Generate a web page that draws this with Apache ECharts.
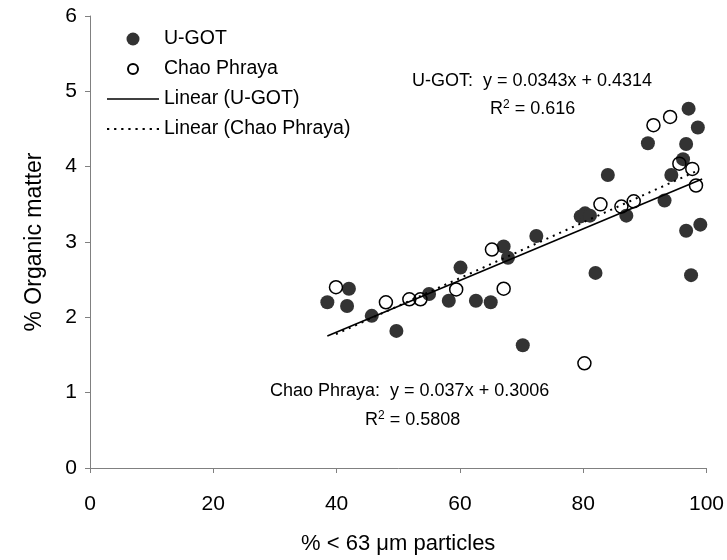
<!DOCTYPE html>
<html>
<head>
<meta charset="utf-8">
<script src="https://cdn.jsdelivr.net/npm/echarts@6/dist/echarts.min.js"></script>
<style>
  html, body { margin: 0; padding: 0; background: #fff; }
  #main { width: 727px; height: 560px; }
</style>
</head>
<body>
<div id="main"></div>
<script>
// U-GOT samples (% < 63 um, % organic matter)
let ugotX = [38.5, 41.7, 42.0, 45.7, 49.7, 55.0, 58.2, 60.1, 62.6, 65.0, 67.1, 67.8, 70.2, 72.4,
  79.6, 80.3, 81.1, 82.0, 84.0, 87.0, 90.5, 93.2, 94.3, 96.2, 96.7, 96.7, 97.1, 97.5, 98.6, 99.0];
let ugotY = [2.2, 2.15, 2.38, 2.02, 1.82, 2.31, 2.22, 2.66, 2.22, 2.2, 2.94, 2.79, 1.63, 3.08,
  3.34, 3.38, 3.35, 2.59, 3.89, 3.35, 4.31, 3.55, 3.89, 4.1, 4.3, 3.15, 4.77, 2.56, 4.52, 3.23];

// Chao Phraya samples
let cpX = [39.9, 48.0, 51.8, 53.6, 59.4, 65.2, 67.1, 80.2, 82.8, 86.2, 88.2, 91.4, 94.1, 95.6, 97.7, 98.3];
let cpY = [2.4, 2.2, 2.24, 2.24, 2.37, 2.9, 2.38, 1.39, 3.5, 3.47, 3.54, 4.55, 4.66, 4.04, 3.97, 3.75];

// trend line end points
let ugotFitX = [38.5, 99.3];
let ugotFitY = [1.752, 3.837];
let cpFitX = [39.9, 98.3];
let cpFitY = [1.777, 3.938];

let xTicks = [0, 20, 40, 60, 80, 100];
let yTicks = [0, 1, 2, 3, 4, 5, 6];

let font = '"Liberation Sans", Arial, sans-serif';

function pairs(xs, ys) {
  let out = [];
  for (let i = 0; i < xs.length; i++) {
    out.push([xs[i], ys[i]]);
  }
  return out;
}

// legend icons: trend lines and a smaller open ring
let solidIcon = 'path://M0,0H52V1.6H0Z';
let dotIcon = 'path://';
for (let i = 0; i < 8; i++) {
  dotIcon += 'M' + (i * 7) + ',0h2.2v2h-2.2z';
}
let ringIcon = 'path://M0,0ZM13,13ZM11.5,6.5A5,5,0,1,1,1.5,6.5A5,5,0,1,1,11.5,6.5Z';

let supRich = {
  a: { fontFamily: font, fontSize: 18, lineHeight: 20, color: '#000' },
  s: { fontFamily: font, fontSize: 12, lineHeight: 20, color: '#000', verticalAlign: 'top', padding: [0, 0, 6, 0] }
};

var myChart = echarts.init(document.getElementById('main'));

var option = {
  animation: false,
  backgroundColor: '#fff',
  textStyle: { fontFamily: font, color: '#000' },
  grid: { left: 90, right: 20, top: 16, bottom: 90 },
  legend: {
    left: 107, top: 29, orient: 'vertical', padding: 0,
    itemWidth: 52, itemHeight: 13, itemGap: 10,
    textStyle: { fontFamily: font, fontSize: 19.5, lineHeight: 19, color: '#000' },
    data: [
      { name: 'U-GOT' },
      { name: 'Chao Phraya', icon: ringIcon },
      { name: 'Linear (U-GOT)', icon: solidIcon },
      { name: 'Linear (Chao Phraya)', icon: dotIcon }
    ]
  },
  xAxis: {
    type: 'value', min: xTicks[0], max: xTicks[xTicks.length - 1], interval: 20,
    name: '% < 63 \u03bcm particles', nameLocation: 'middle', nameGap: 65,
    nameTextStyle: { fontFamily: font, fontSize: 22, color: '#000' },
    axisLine: { lineStyle: { color: '#808080', width: 1 } },
    axisTick: { show: true, inside: false, length: 5, lineStyle: { color: '#808080' } },
    axisLabel: { fontFamily: font, fontSize: 21, color: '#000', margin: 26 },
    splitLine: { show: false }
  },
  yAxis: {
    type: 'value', min: yTicks[0], max: yTicks[yTicks.length - 1], interval: 1,
    name: '% Organic matter', nameLocation: 'middle', nameGap: 44,
    nameTextStyle: { fontFamily: font, fontSize: 23, color: '#000' },
    axisLine: { show: true, lineStyle: { color: '#808080', width: 1 } },
    axisTick: { show: true, inside: false, length: 5, lineStyle: { color: '#808080' } },
    axisLabel: { fontFamily: font, fontSize: 21, color: '#000', margin: 13 },
    splitLine: { show: false }
  },
  graphic: [
    {
      type: 'text', left: 412, top: 72,
      style: { text: 'U-GOT:  y = 0.0343x + 0.4314', font: '18px ' + font, fill: '#000' }
    },
    {
      type: 'text', left: 490, top: 99,
      style: { text: '{a|R}{s|2}{a| = 0.616}', rich: supRich }
    },
    {
      type: 'text', left: 270, top: 382,
      style: { text: 'Chao Phraya:  y = 0.037x + 0.3006', font: '18px ' + font, fill: '#000' }
    },
    {
      type: 'text', left: 365, top: 410,
      style: { text: '{a|R}{s|2}{a| = 0.5808}', rich: supRich }
    }
  ],
  series: [
    {
      name: 'Linear (U-GOT)', type: 'line', data: pairs(ugotFitX, ugotFitY),
      symbol: 'none', z: 3,
      lineStyle: { color: '#000', width: 1.6, type: 'solid' },
      itemStyle: { color: '#000' }
    },
    {
      name: 'Linear (Chao Phraya)', type: 'line', data: pairs(cpFitX, cpFitY),
      symbol: 'none', z: 3,
      lineStyle: { color: '#000', width: 2, type: [2, 5] },
      itemStyle: { color: '#000' }
    },
    {
      name: 'U-GOT', type: 'scatter', data: pairs(ugotX, ugotY),
      symbol: 'circle', symbolSize: 14, z: 2,
      itemStyle: { color: '#333333', opacity: 1 }
    },
    {
      name: 'Chao Phraya', type: 'scatter', data: pairs(cpX, cpY),
      symbol: 'circle', symbolSize: 13, z: 4,
      itemStyle: { color: 'rgba(255,255,255,0)', borderColor: '#000', borderWidth: 1.5, opacity: 1 }
    }
  ]
};

myChart.setOption(option);
</script>
</body>
</html>
